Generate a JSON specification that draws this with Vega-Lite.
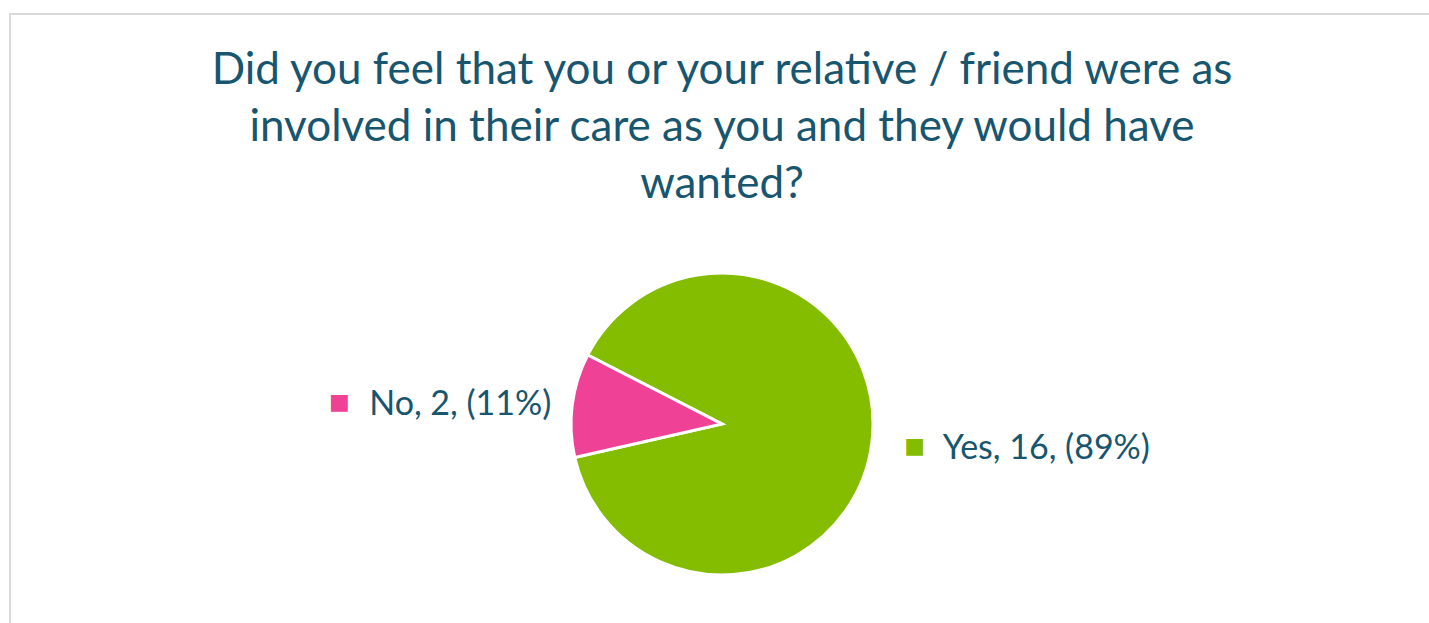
{
  "$schema": "https://vega.github.io/schema/vega-lite/v6.json",
  "autosize": {"type": "none"},
  "padding": {"left": 10, "top": 14, "right": 0, "bottom": 0},
  "width": 1424,
  "height": 820,
  "background": "white",
  "view": {"stroke": "#D9D9D9", "strokeWidth": 2, "fill": "white"},
  "title": {
    "text": ["Did you feel that you or your relative / friend were as", "involved in their care as you and they would have", "wanted?"],
    "anchor": "middle",
    "orient": "top",
    "offset": -193,
    "font": "Lato",
    "fontSize": 44,
    "fontWeight": "normal",
    "lineHeight": 57,
    "color": "#17566E"
  },
  "data": {"values": [
    {"category": "Yes", "count": 16, "label": "Yes, 16, (89%)"},
    {"category": "No", "count": 2, "label": "No, 2, (11%)"}
  ]},
  "encoding": {
    "theta": {"field": "count", "type": "quantitative", "stack": true, "scale": {"range": [5.187, 11.470]}},
    "order": {"field": "count", "type": "quantitative", "sort": "descending"}
  },
  "layer": [
    {
      "mark": {"type": "arc", "radius": 151, "stroke": "white", "strokeWidth": 3},
      "encoding": {
        "color": {"field": "category", "type": "nominal", "scale": {"domain": ["Yes", "No"], "range": ["#84BC00", "#EF4196"]}, "legend": null}
      }
    },
    {
      "mark": {"type": "text", "radius": 172, "font": "Lato", "fontSize": 34, "color": "#17566E", "baseline": "middle",
        "align": {"expr": "datum.category === 'No' ? 'right' : 'left'"},
        "dx": {"expr": "datum.category === 'Yes' ? 50 : 0"},
        "dy": 3},
      "encoding": {"text": {"field": "label"}}
    },
    {
      "mark": {"type": "text", "radius": 172, "font": "DejaVu Sans", "fontSize": 22, "baseline": "middle", "align": "center",
        "dx": {"expr": "datum.category === 'Yes' ? 22 : -212"},
        "dy": 0},
      "encoding": {
        "text": {"value": "■"},
        "color": {"field": "category", "type": "nominal", "scale": {"domain": ["Yes", "No"], "range": ["#84BC00", "#EF4196"]}, "legend": null}
      }
    }
  ]
}
